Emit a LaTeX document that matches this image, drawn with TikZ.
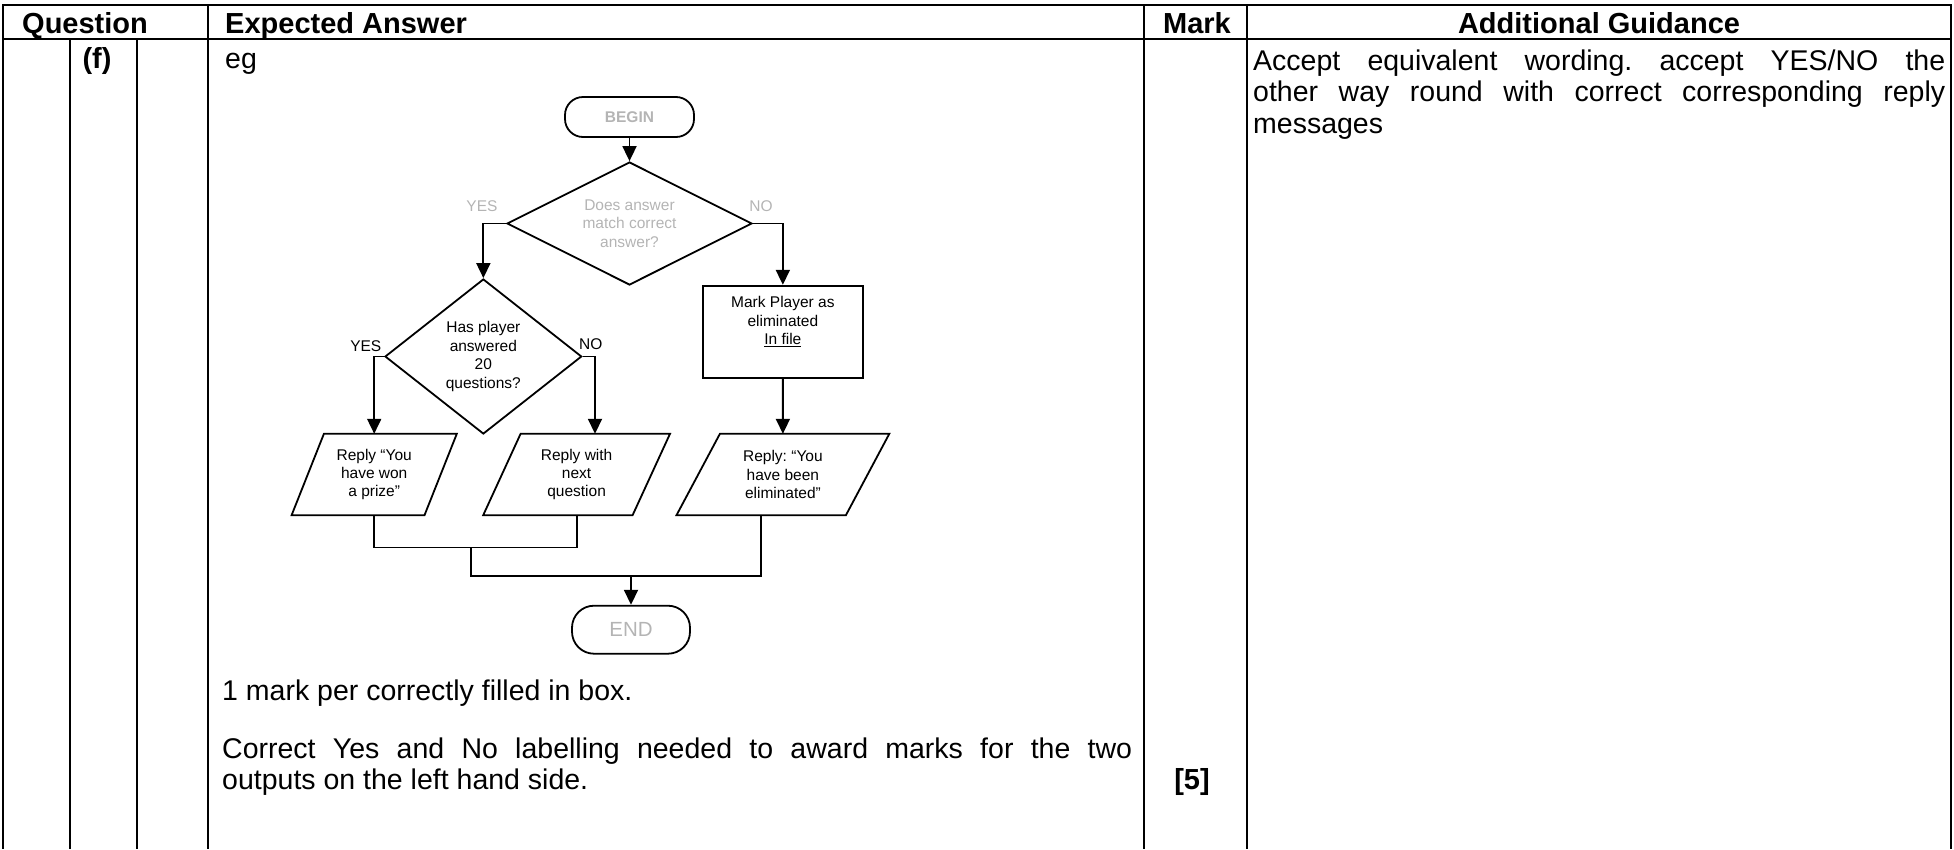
\documentclass[tikz,border=0pt]{standalone}
\usepackage{fontspec}
\setmainfont{Liberation Sans}
\newfontfamily\fcfont{Liberation Sans}
\newfontfamily\bodyfont{Liberation Sans}
\usetikzlibrary{shapes.geometric,arrows.meta,calc}
\definecolor{fcgray}{RGB}{180,180,180}
\newcommand\hdrsize{\fontsize{29}{31.5}\selectfont}
\newcommand\bodysize{\bodyfont\fontsize{28.5}{31.5}\selectfont}
\newcommand\fcsize{\fcfont\fontsize{15.5}{18.4}\selectfont}
\newcommand\fcbigsize{\fcfont\fontsize{20.5}{23}\selectfont}
\frenchspacing
\begin{document}
\begin{tikzpicture}[x=1pt,y=-1pt,
  tline/.style={line width=2pt},
  fcline/.style={line width=1.8pt},
  arr/.style={fcline,-{Triangle[width=14pt,length=15pt]}},
  term/.style={draw,fcline,rounded corners=18pt,minimum width=129pt,minimum height=40pt,inner sep=0pt,text=fcgray,font=\fcsize\bfseries},
  termend/.style={draw,fcline,rounded corners=22pt,minimum width=118pt,minimum height=48pt,inner sep=0pt,text=fcgray,font=\fcbigsize},
  dec/.style={draw,fcline,diamond,inner sep=0pt,align=center,font=\fcsize},
  proc/.style={draw,fcline,rectangle,minimum width=159.7pt,minimum height=92pt,inner sep=0pt},
  iobox/.style={rectangle,inner sep=0pt,align=center,font=\fcsize,minimum height=81pt},
  lbl/.style={font=\fcsize,inner sep=0pt},
  hdr/.style={font=\hdrsize\bfseries,inner sep=0pt},
  body/.style={font=\bodysize,inner sep=0pt,anchor=base west}]
\useasboundingbox (0,0) rectangle (1954,849);

% ---- table ----
\draw[tline] (3,5) -- (1951,5);
\draw[tline] (3,39) -- (1951,39);
\foreach \xx in {3,208,1144,1247,1951} {\draw[tline] (\xx,4) -- (\xx,849);}
\foreach \xx in {70,137} {\draw[tline] (\xx,39) -- (\xx,849);}

\node[hdr,anchor=base west] (hQ) at (22,33) {Question};
\node[hdr,anchor=base west] (hE) at (225,33) {Expected Answer};
\node[hdr,anchor=base] (hM) at (1197,33) {Mark};
\node[hdr,anchor=base] (hA) at (1599,33) {Additional Guidance};

\node[hdr,anchor=base] (qf) at (97,68) {(f)};
\node[body] (eg) at (225,68) {eg};

\node[body] (ag1) at (1253,70) {\makebox[692pt][s]{Accept equivalent wording. accept YES/NO the}};
\node[body] (ag2) at (1253,101.5) {\makebox[692pt][s]{other way round with correct corresponding reply}};
\node[body] (ag3) at (1253,133) {messages};

\node[body] (t1) at (222,700) {1 mark per correctly filled in box.};
\node[body] (t2) at (222,758) {\makebox[910pt][s]{Correct Yes and No labelling needed to award marks for the two}};
\node[body] (t3) at (222,789.5) {outputs on the left hand side.};
\node[hdr,anchor=base] (mk) at (1192,789.5) {[5]};

% ---- flowchart ----
\node[term] (begin) at (629.5,117) {BEGIN};
\node[dec,aspect=2,minimum width=245pt,minimum height=123pt,text=fcgray] (d1) at (629.5,223.5) {Does answer\\match correct\\answer?};
\node[lbl,text=fcgray] (y1) at (482,206) {YES};
\node[lbl,text=fcgray] (n1) at (761,206) {NO};

\node[dec,aspect=1.27,minimum width=196.7pt,minimum height=155pt] (d2) at (483.35,356.5) {Has player\\answered\\20\\questions?};
\node[lbl] (y2) at (365.8,346) {YES};
\node[lbl] (n2) at (590.7,343.7) {NO};

\node[proc] (rect) at (782.85,331.7) {};
\node[lbl,align=center] (recttxt) at (782.85,321.7) {Mark Player as\\eliminated\\\underline{In file}};

\node[iobox,minimum width=132.5pt] (p1) at (374.2,474.5) {Reply “You\\have won\\a prize”};
\node[iobox,minimum width=149pt] (p2) at (576.6,474.5) {Reply with\\next\\question};
\node[iobox,minimum width=169pt] (p3) at (782.9,474.5) {Reply: “You\\have been\\eliminated”};

\draw[fcline] ([xshift=-16.15pt]p1.south west) -- ([xshift=-16.15pt]p1.south east) -- ([xshift=16.15pt]p1.north east) -- ([xshift=16.15pt]p1.north west) -- cycle;
\draw[fcline] ([xshift=-18.7pt]p2.south west) -- ([xshift=-18.7pt]p2.south east) -- ([xshift=18.7pt]p2.north east) -- ([xshift=18.7pt]p2.north west) -- cycle;
\draw[fcline] ([xshift=-21.7pt]p3.south west) -- ([xshift=-21.7pt]p3.south east) -- ([xshift=21.7pt]p3.north east) -- ([xshift=21.7pt]p3.north west) -- cycle;

\node[termend] (endt) at (631,629.7) {END};

\draw[arr] (begin.south) -- (d1.north);
\draw[arr] (d1.west) -| (d2.north);
\draw[arr] (d1.east) -| (rect.north);
\draw[arr] (d2.west) -| (p1.north);
\draw[arr] (d2.east) -| ([xshift=18.4pt]p2.north);
\draw[arr] (rect.south) -- (p3.north);
\coordinate (m1) at (470.7,547.5);
\coordinate (m2) at (631,576);
\draw[fcline] (p1.south) |- (m1) -| (p2.south);
\draw[fcline] (m1) |- (m2) -| ([xshift=-21.9pt]p3.south);
\draw[arr] (m2) -- (endt.north);
\end{tikzpicture}
\end{document}
